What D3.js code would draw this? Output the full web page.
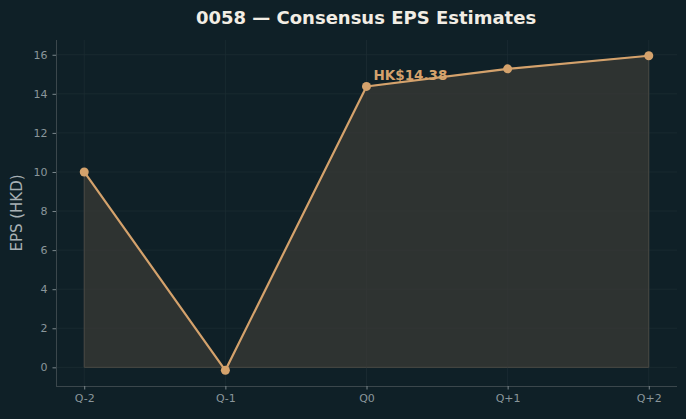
<!DOCTYPE html>
<html>
<head>
<meta charset="utf-8">
<script src="https://cdn.jsdelivr.net/npm/d3@7"></script>
<style>
  body { margin: 0; background: #0f2027; }
  svg { display: block; font-family: "DejaVu Sans", sans-serif; }
</style>
</head>
<body>
<svg width="686" height="419"></svg>
<script>
var quarters = ["Q-2", "Q-1", "Q0", "Q+1", "Q+2"];
var eps = [10.0, -0.15, 14.38, 15.28, 15.95];
var yTicks = [0, 2, 4, 6, 8, 10, 12, 14, 16];
var annotIndex = 2;

var svg = d3.select("svg"),
    margin = {top: 40, right: 9, bottom: 33, left: 56},
    width = +svg.attr("width") - margin.left - margin.right,
    height = +svg.attr("height") - margin.top - margin.bottom;

var lineColor = "#d4a26c";

svg.append("rect").attr("width", 686).attr("height", 419).attr("fill", "#0f2027");

var x = d3.scaleLinear().domain([-0.2, quarters.length - 1 + 0.2]).range([0, width]);
var yMin = d3.min(eps), yMax = d3.max(eps), pad = (yMax - yMin) * 0.05;
var y = d3.scaleLinear().domain([yMin - pad, yMax + pad]).range([height, 0]);

var g = svg.append("g")
    .attr("transform", "translate(" + margin.left + "," + margin.top + ")");

// grid
g.selectAll(".gy").data(yTicks).enter().append("line")
    .attr("x1", 0).attr("x2", width)
    .attr("y1", function(d){return y(d);}).attr("y2", function(d){return y(d);})
    .attr("stroke", "#1c2c32").attr("stroke-width", 0.8);
g.selectAll(".gx").data(quarters).enter().append("line")
    .attr("x1", function(d,i){return x(i);}).attr("x2", function(d,i){return x(i);})
    .attr("y1", 0).attr("y2", height)
    .attr("stroke", "#1c2c32").attr("stroke-width", 0.8);

// area
var area = d3.area()
    .x(function(d,i){return x(i);})
    .y0(y(0))
    .y1(function(d){return y(d);});
g.append("path")
    .datum(eps)
    .attr("d", area)
    .attr("fill", "#3a3a36")
    .attr("fill-opacity", 0.75)
    .attr("stroke", "#4a4a44")
    .attr("stroke-width", 1);

// line
var line = d3.line()
    .x(function(d,i){return x(i);})
    .y(function(d){return y(d);});
g.append("path")
    .datum(eps)
    .attr("d", line)
    .attr("fill", "none")
    .attr("stroke", lineColor)
    .attr("stroke-width", 2.2);

g.selectAll(".pt").data(eps).enter().append("circle")
    .attr("cx", function(d,i){return x(i);})
    .attr("cy", function(d){return y(d);})
    .attr("r", 4.5)
    .attr("fill", lineColor);

// annotation
g.append("text")
    .attr("x", x(annotIndex) + 7)
    .attr("y", y(eps[annotIndex]) - 6)
    .attr("fill", lineColor)
    .attr("font-size", 13.5)
    .attr("font-weight", "bold")
    .text("HK$" + eps[annotIndex].toFixed(2));

// axes
var xAxis = d3.axisBottom(x)
    .tickValues(d3.range(quarters.length))
    .tickFormat(function(i){return quarters[i];})
    .tickSize(3.5).tickPadding(5);
var yAxis = d3.axisLeft(y).tickValues(yTicks).tickSize(3.5).tickPadding(5);

var gx = g.append("g").attr("transform", "translate(0," + height + ")").call(xAxis);
var gy = g.append("g").call(yAxis);
[gx, gy].forEach(function(a){
  a.select(".domain").attr("stroke", "#3b474c").attr("stroke-width", 1);
  a.selectAll(".tick line").attr("stroke", "#7b878c");
  a.selectAll(".tick text").attr("fill", "#8a969b").attr("font-size", 11)
    .attr("font-family", "DejaVu Sans, sans-serif");
});
gy.select(".domain").attr("d", "M0.5," + height + "V0");
gx.select(".domain").attr("d", "M0," + 0.5 + "H" + width);

// labels
svg.append("text")
    .attr("x", 366).attr("y", 23.5)
    .attr("text-anchor", "middle")
    .attr("fill", "#f2ede4")
    .attr("font-size", 18)
    .attr("font-weight", "bold")
    .text("0058 \u2014 Consensus EPS Estimates");

svg.append("text")
    .attr("transform", "translate(21.5," + (margin.top + height / 2) + ") rotate(-90)")
    .attr("text-anchor", "middle")
    .attr("fill", "#a7b0b4")
    .attr("font-size", 15)
    .text("EPS (HKD)");
</script>
</body>
</html>
